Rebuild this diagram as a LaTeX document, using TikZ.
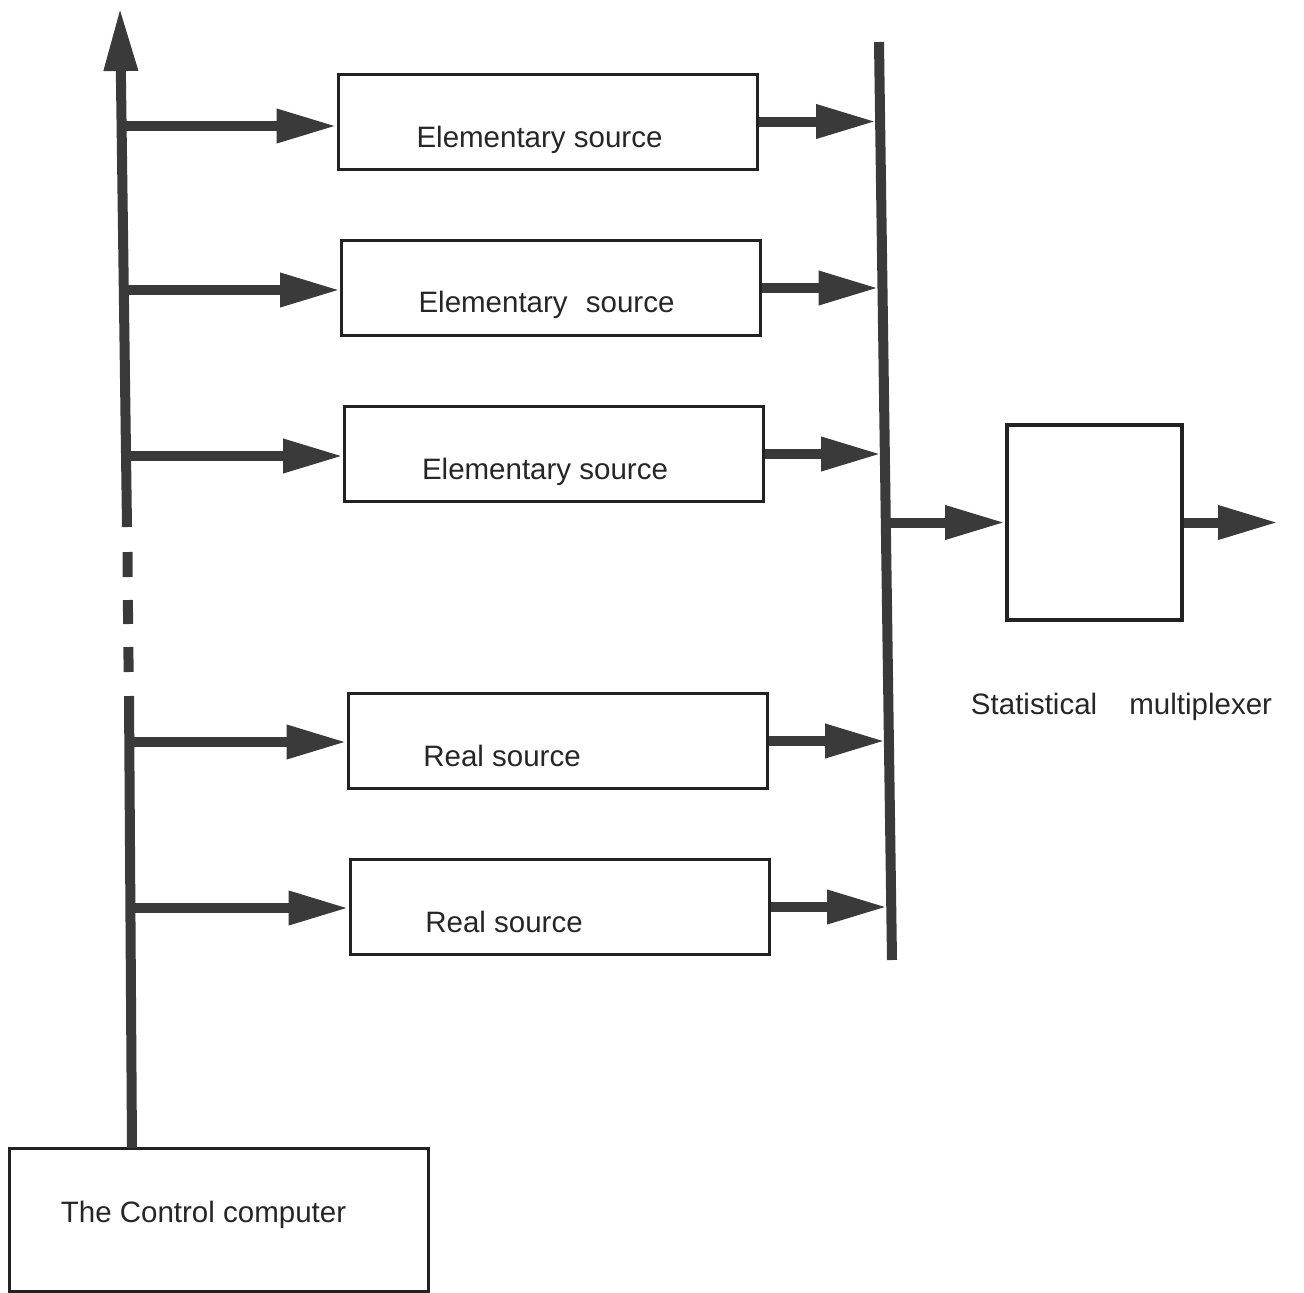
\documentclass[tikz,border=0pt]{standalone}
\usepackage{fontspec}
\setmainfont{Liberation Sans}
\usetikzlibrary{arrows.meta}
\definecolor{ink}{HTML}{3A3A3A}
\definecolor{frame}{HTML}{222222}
\begin{document}
\begin{tikzpicture}[x=1pt,y=-1pt,
  box/.style={draw=frame, line width=3pt, minimum width=419pt, minimum height=95pt, inner sep=0pt},
  lbl/.style={inner sep=0pt, anchor=base, text=black!85, font=\fontsize{29.5}{35}\selectfont},
  bus/.style={draw=ink, line width=10pt},
  arr/.style={draw=ink, line width=10pt, -{Triangle[length=60pt,width=32pt]}},
]
\useasboundingbox (0,0) rectangle (1304,1293);
% source boxes
\node[box] (e1) at (547.5,121.5) {};
\node[box] (e2) at (551,288) {};
\node[box] (e3) at (554,454) {};
\node[box] (r1) at (557.5,741) {};
\node[box] (r2) at (559.5,907) {};
\node[lbl] (te1) at (539.5,147) {Elementary source};
\node[lbl] (te2) at (546.5,312) {Elementary\hspace{10pt} source};
\node[lbl] (te3) at (545,479) {Elementary source};
\node[lbl] (tr1) at (502,766) {Real source};
\node[lbl] (tr2) at (504,932) {Real source};
% multiplexer
\node[draw=frame, line width=4pt, minimum width=175pt, minimum height=195pt, inner sep=0pt] (mux) at (1094.5,522.5) {};
\node[lbl] (tmux) at (1121.5,714) {Statistical\hspace{24pt} multiplexer};
% control computer
\node[box, minimum height=143pt] (ctrl) at (218.5,1219.5) {};
\node[lbl] (tctrl) at (203.5,1222) {The Control computer};
% left bus
\coordinate (ltop) at (120,8);
\coordinate (lmid) at (127,527);
\coordinate (lres) at (129,696);
\coordinate (lbot) at (132,1148);
\draw[arr, -{Triangle[length=63pt,width=32pt]}] (lmid) -- (ltop);
\draw[bus] (127.5,552) coordinate (d1a) -- (127.6,577) coordinate (d1b);
\draw[bus] (127.9,600) coordinate (d2a) -- (128.1,624) coordinate (d2b);
\draw[bus] (128.4,647) coordinate (d3a) -- (128.6,672) coordinate (d3b);
\draw[bus] (lres) -- (lbot);
\coordinate (l1) at (121.7,126);
\coordinate (l2) at (123.3,290);
\coordinate (l3) at (125.2,456);
\coordinate (l4) at (129.3,742);
\coordinate (l5) at (130.4,908);
\draw[arr] (l1) -- (l1 -| e1.west);
\draw[arr] (l2) -- (l2 -| e2.west);
\draw[arr] (l3) -- (l3 -| e3.west);
\draw[arr] (l4) -- (l4 -| r1.west);
\draw[arr] (l5) -- (l5 -| r2.west);
% right bus
\coordinate (rtop) at (879,42);
\coordinate (rbot) at (892,960);
\draw[bus] (rtop) -- (rbot);
\coordinate (p1) at (876,121.5);
\coordinate (p2) at (878.5,288);
\coordinate (p3) at (881,454);
\coordinate (p4) at (885,741);
\coordinate (p5) at (887,907);
\draw[arr] (e1.east) -- (p1);
\draw[arr] (e2.east) -- (p2);
\draw[arr] (e3.east) -- (p3);
\draw[arr] (r1.east) -- (p4);
\draw[arr] (r2.east) -- (p5);
\coordinate (pm) at (886,522.5);
\draw[arr] (pm) -- (mux.west);
\coordinate (out) at (1278,522.5);
\draw[arr] (mux.east) -- (out);
\end{tikzpicture}
\end{document}
